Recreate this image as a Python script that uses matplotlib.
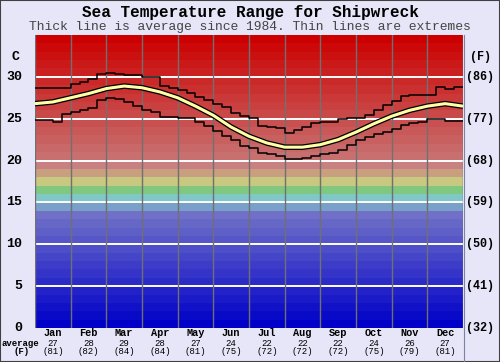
import numpy as np
import matplotlib
matplotlib.use("Agg")
import matplotlib.pyplot as plt
from matplotlib import transforms
from matplotlib.patches import Rectangle

# ---- data ----
months = ["Jan", "Feb", "Mar", "Apr", "May", "Jun",
          "Jul", "Aug", "Sep", "Oct", "Nov", "Dec"]
month_avg_c = [27, 28, 29, 28, 27, 24, 22, 22, 22, 24, 26, 27]
month_avg_f = [81, 82, 84, 84, 81, 75, 72, 72, 72, 75, 79, 81]

# average, sampled every half month from 1 Jan to 31 Dec
avg_x = np.arange(25) / 2
avg_temp = [26.8, 27.0, 27.5, 28.0, 28.6, 28.9, 28.7, 28.2, 27.5, 26.5,
            25.4, 24.0, 22.9, 22.1, 21.6, 21.6, 21.9, 22.5, 23.4, 24.4,
            25.3, 26.0, 26.5, 26.8, 26.5]

# extremes, roughly weekly (4 per month)
week_x = np.arange(48) / 4
upper = [28.7, 28.7, 28.7, 28.7, 29.2, 29.4, 29.7, 30.3, 30.5, 30.3, 30.2, 30.2,
         30.0, 30.0, 28.9, 28.7, 28.4, 28.1, 27.6, 27.2, 26.8, 26.4, 25.7, 25.3,
         25.1, 24.1, 24.0, 23.9, 23.3, 23.7, 24.0, 24.5, 24.6, 24.6, 25.0, 25.1,
         25.1, 25.4, 26.0, 26.6, 27.1, 27.7, 27.8, 27.8, 27.8, 28.8, 28.6, 28.8]
lower = [24.9, 24.9, 24.6, 25.6, 25.8, 26.0, 26.3, 27.2, 27.5, 27.4, 27.0, 26.5,
         26.0, 25.8, 25.2, 25.2, 25.1, 25.1, 24.6, 24.1, 23.5, 22.9, 22.5, 21.7,
         21.5, 20.9, 20.8, 20.5, 20.2, 20.2, 20.3, 20.5, 20.8, 20.9, 21.3, 21.9,
         22.5, 22.8, 23.2, 23.4, 23.8, 24.3, 24.5, 24.6, 25.0, 25.0, 24.7, 24.7]

c_ticks = [0, 5, 10, 15, 20, 25, 30]
f_ticks = ["(32)", "(41)", "(50)", "(59)", "(68)", "(77)", "(86)"]

# ---- colour bands, one per degree ----
def band_colour(t):
    if t <= 13:
        v = t * 112 / 13
        return (v / 255, v / 255, 200 / 255)
    fixed = {14: "#78A0C8", 15: "#80C8C8", 16: "#80C880",
             17: "#C8C880", 18: "#C8A080", 19: "#C88080"}
    if t in fixed:
        return fixed[t]
    g = 112 * (34 - t) / 14
    return (200 / 255 + (t - 20) * 4 / 14 / 255, g / 255, g / 255)


W, H = 500, 362
fig = plt.figure(figsize=(W / 100, H / 100), dpi=100)
bg = "#E6E6F8"
fig.patch.set_facecolor(bg)
mono = "Liberation Mono"

ax = fig.add_axes([35 / W, 1 - 328 / H, 428 / W, 293 / H])
ax.set_xlim(0, 12)
ax.set_ylim(0, 35)
ax.axis("off")

for t in range(35):
    ax.axhspan(t, t + 1, color=band_colour(t), lw=0, zorder=0)

for y in c_ticks[1:]:
    ax.axhline(y, color="white", lw=1.4, zorder=1)
for m in range(0, 13):
    ax.axvline(m, color="#707070", lw=1, zorder=1)

ax.step(np.r_[week_x, 12], np.r_[upper, upper[-1]], where="post",
        color="black", lw=1.1, zorder=3)
ax.step(np.r_[week_x, 12], np.r_[lower, lower[-1]], where="post",
        color="black", lw=1.1, zorder=3)
ax.plot(avg_x, avg_temp, color="black", lw=4.0, zorder=4, solid_capstyle="butt")
ax.plot(avg_x, avg_temp, color="#FFFFA8", lw=2.2, zorder=5, solid_capstyle="butt")

# ---- texts ----
fig.text(0.5, 1 - 12 / H, "Sea Temperature Range for Shipwreck", ha="center",
         va="center", family=mono, weight="bold", fontsize=11.5)
fig.text(0.5, 1 - 27 / H,
         "Thick line is average since 1984. Thin lines are extremes",
         ha="center", va="center", family=mono, fontsize=9.4, color="#444444")

left_tr = transforms.blended_transform_factory(fig.transFigure, ax.transData)
for c, f in zip(c_ticks, f_ticks):
    fig.text(22 / W, c, str(c), transform=left_tr, ha="right", va="center",
             family=mono, weight="bold", fontsize=9.5)
    fig.text(466 / W, c, f, transform=left_tr, ha="left", va="center",
             family=mono, weight="bold", fontsize=8.5)
fig.text(15 / W, 32.4, "C", transform=left_tr, ha="center", va="center",
         family=mono, weight="bold", fontsize=9.5)
fig.text(480 / W, 32.4, "(F)", transform=left_tr, ha="center", va="center",
         family=mono, weight="bold", fontsize=8.5)

bot_tr = transforms.blended_transform_factory(ax.transData, fig.transFigure)
for i, name in enumerate(months):
    x = i + 0.5
    fig.text(x, 1 - 333 / H, name, transform=bot_tr, ha="center", va="center",
             family=mono, weight="bold", fontsize=7.4)
    fig.text(x, 1 - 343 / H, str(month_avg_c[i]), transform=bot_tr, ha="center",
             va="center", family=mono, fontsize=6.5)
    fig.text(x, 1 - 352 / H, "(%d)" % month_avg_f[i], transform=bot_tr,
             ha="center", va="center", family=mono, fontsize=6.5)
fig.text(2 / W, 1 - 343 / H, "average", ha="left", va="center",
         family=mono, weight="bold", fontsize=6.5)
fig.text(22 / W, 1 - 352 / H, "(F)", ha="center", va="center",
         family=mono, weight="bold", fontsize=6.5)

# right edge line running down through the label area, and outer frame
fig.add_artist(plt.Line2D([463.5 / W, 463.5 / W], [0, 1 - 35 / H],
                          color="#8080A0", lw=0.8))
fig.add_artist(Rectangle((0, 0), 1, 1, transform=fig.transFigure,
                         fill=False, edgecolor="#404040", lw=1.5))

fig.savefig("out.png", dpi=100, facecolor=bg)
